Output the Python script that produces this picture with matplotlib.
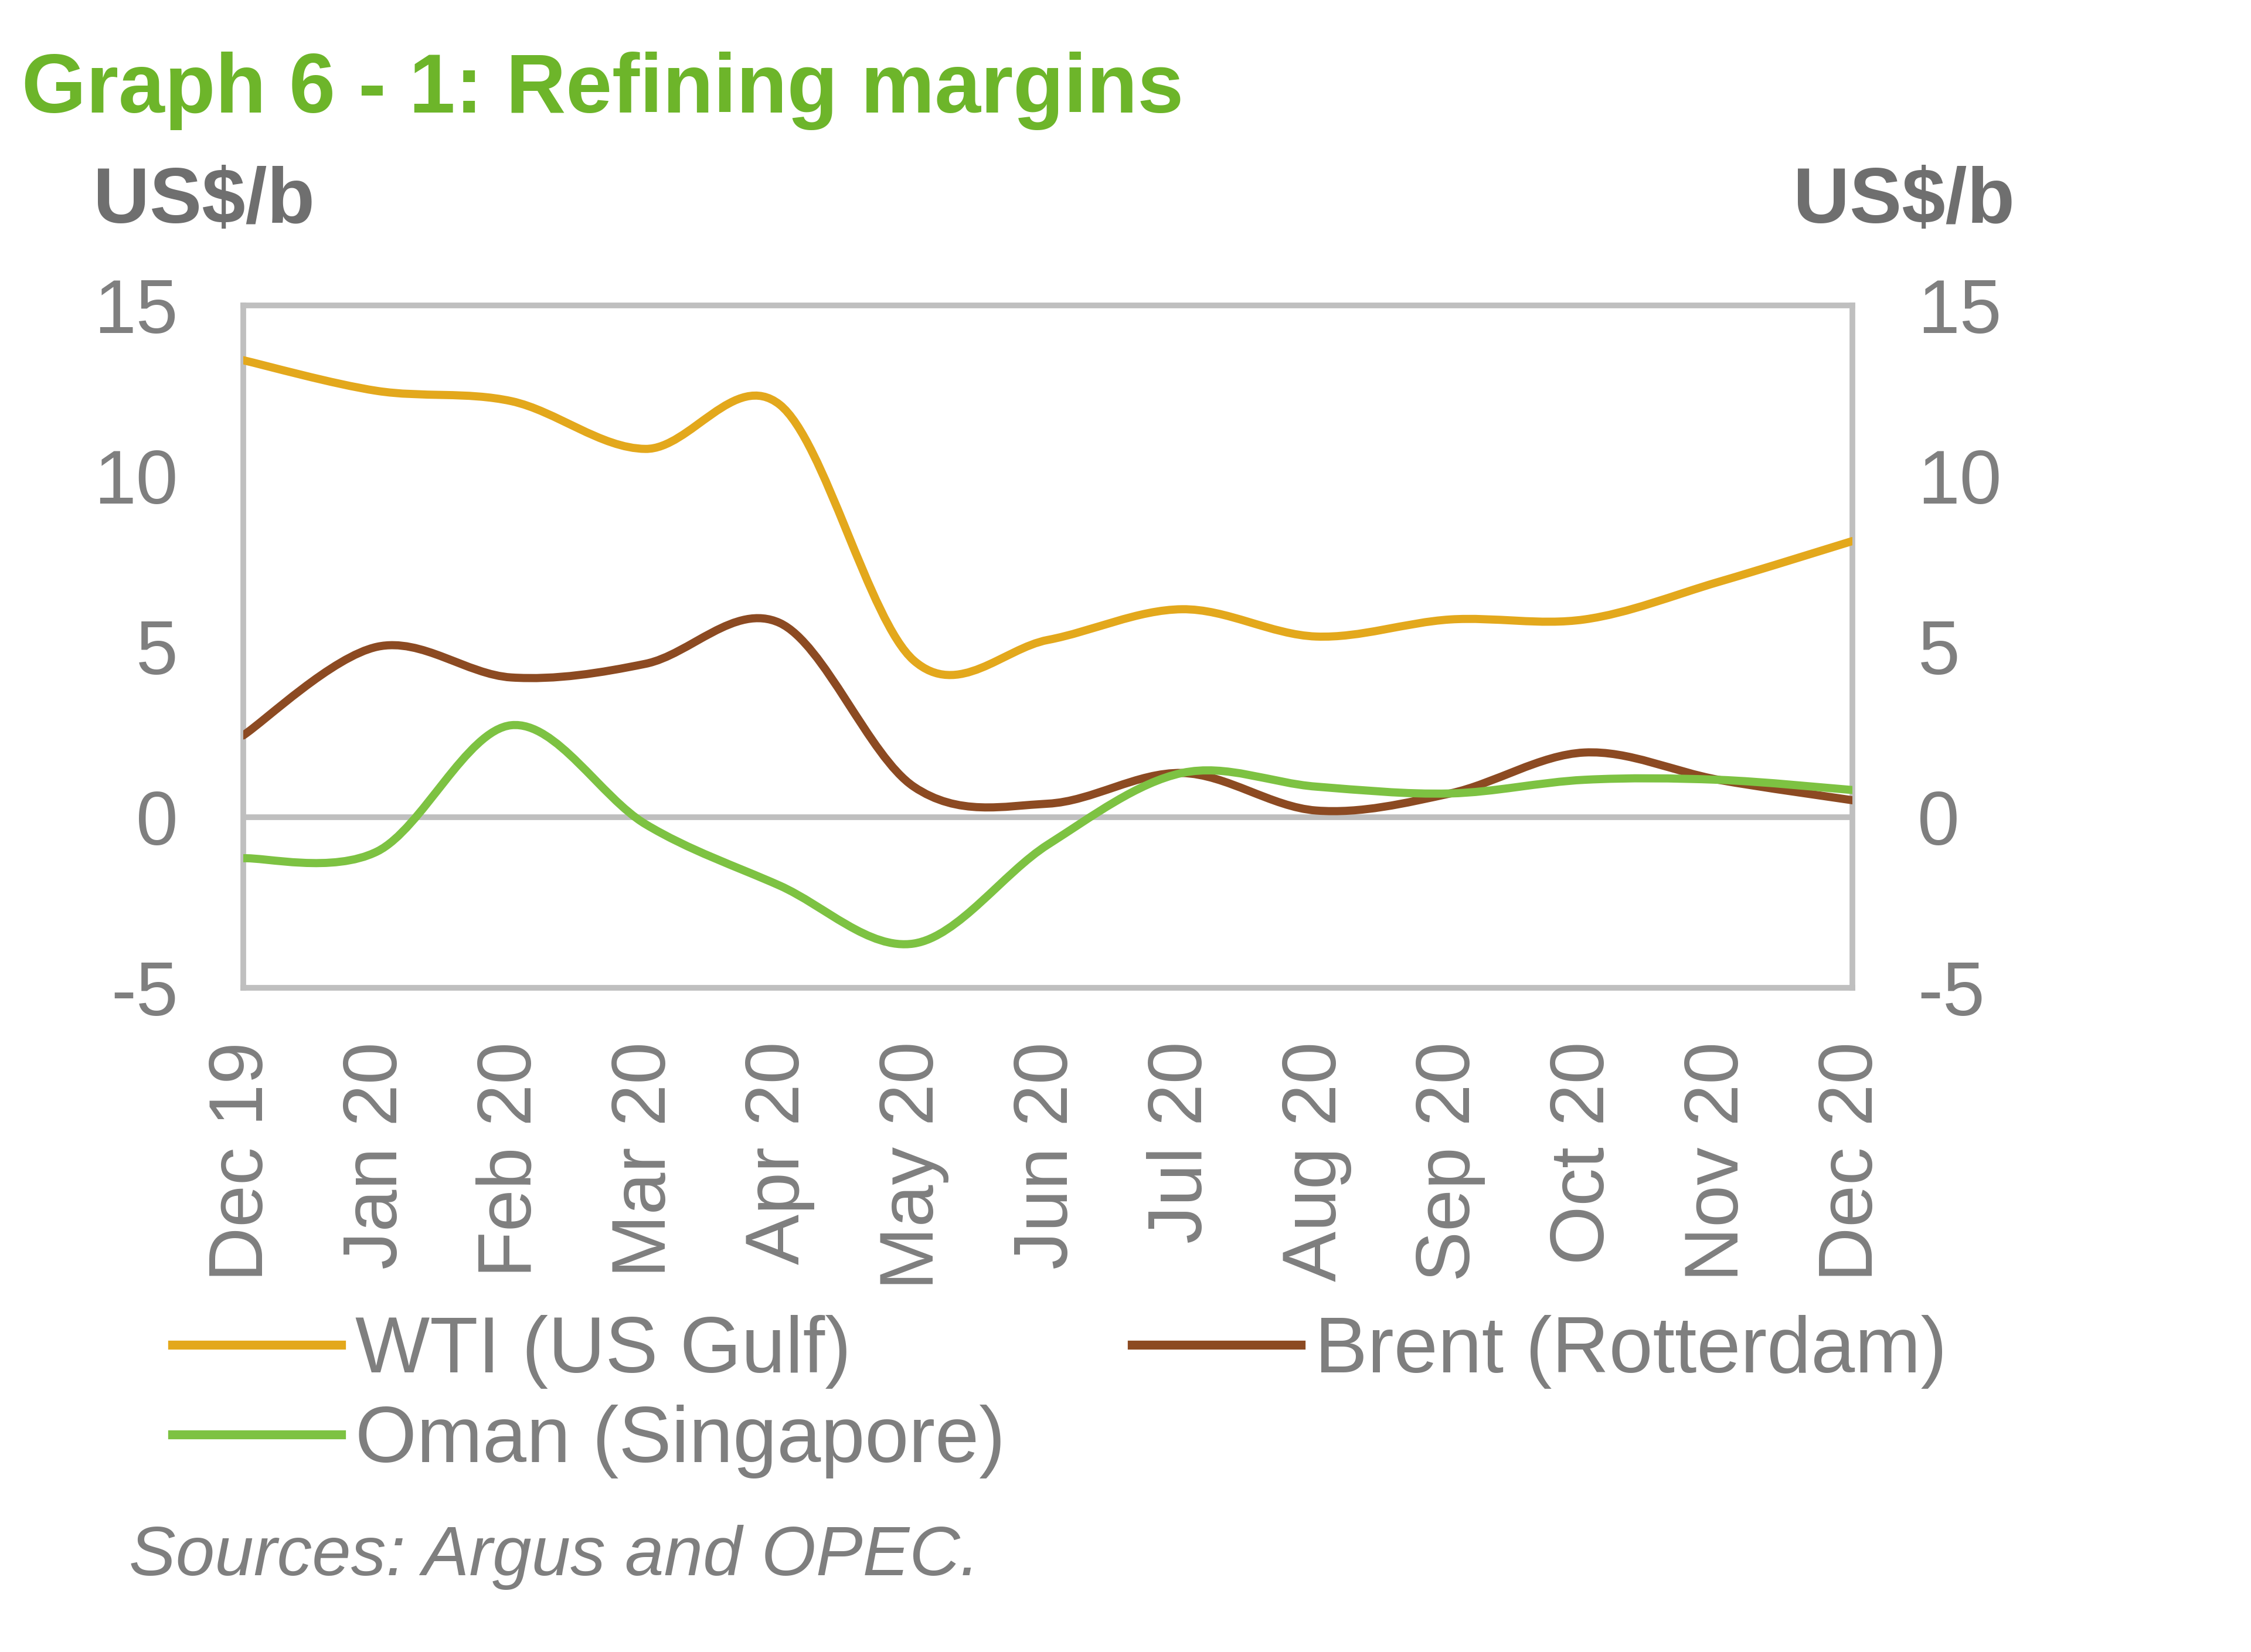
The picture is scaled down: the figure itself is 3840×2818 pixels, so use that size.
import matplotlib
matplotlib.use("Agg")
import matplotlib.pyplot as plt
from matplotlib.path import Path
from matplotlib.patches import PathPatch
from matplotlib.lines import Line2D

plt.rcParams['font.family'] = ['Liberation Sans', 'DejaVu Sans']
plt.rcParams['axes.unicode_minus'] = False

months = ['Dec 19', 'Jan 20', 'Feb 20', 'Mar 20', 'Apr 20', 'May 20', 'Jun 20',
          'Jul 20', 'Aug 20', 'Sep 20', 'Oct 20', 'Nov 20', 'Dec 20']
wti = [13.4, 12.5, 12.2, 10.8, 12.1, 4.6, 5.2, 6.1, 5.3, 5.8, 5.8, 6.9, 8.1]
brent = [2.4, 5.0, 4.1, 4.5, 5.7, 0.9, 0.4, 1.3, 0.2, 0.7, 1.9, 1.1, 0.5]
oman = [-1.2, -1.0, 2.7, -0.2, -2.0, -3.7, -0.8, 1.3, 0.9, 0.7, 1.1, 1.1, 0.8]

series = [
    ("WTI (US Gulf)", wti, '#E3A81C'),
    ("Brent (Rotterdam)", brent, '#8C4A22'),
    ("Oman (Singapore)", oman, '#7DC242'),
]

grey_text = '#7F7F7F'
frame_grey = '#BFBFBF'


def smooth_path(xs, ys):
    # Excel-like smoothed line: cubic Bezier through each point
    verts = [(xs[0], ys[0])]
    codes = [Path.MOVETO]
    n = len(xs)
    for i in range(n - 1):
        x0, y0 = (xs[i - 1], ys[i - 1]) if i > 0 else (xs[i], ys[i])
        x1, y1 = xs[i], ys[i]
        x2, y2 = xs[i + 1], ys[i + 1]
        x3, y3 = (xs[i + 2], ys[i + 2]) if i + 2 < n else (x2, y2)
        c1 = (x1 + (x2 - x0) / 6, y1 + (y2 - y0) / 6)
        c2 = (x2 - (x3 - x1) / 6, y2 - (y3 - y1) / 6)
        verts += [c1, c2, (x2, y2)]
        codes += [Path.CURVE4] * 3
    return Path(verts, codes)


fig = plt.figure(figsize=(38.4, 28.18), dpi=100)
ax = fig.add_axes([0.108, 0.402, 0.715, 0.413])

x = list(range(len(months)))
handles = []
for label, vals, colour in series:
    ax.add_patch(PathPatch(smooth_path(x, vals), fill=False, edgecolor=colour,
                           lw=10, capstyle='round', zorder=3))
    handles.append(Line2D([], [], color=colour, lw=11, label=label))

ax.axhline(0, color=frame_grey, lw=7, zorder=2)
ax.set_xlim(0, len(months) - 1)
ax.set_ylim(-5, 15)
ax.set_yticks([-5, 0, 5, 10, 15])
ax.set_xticks(x)
ax.set_xticklabels(months, rotation=90)

for s in ax.spines.values():
    s.set_color(frame_grey)
    s.set_linewidth(7)

ax.tick_params(axis='both', length=0, labelsize=93, labelcolor=grey_text)
ax.tick_params(axis='y', pad=80)
ax.tick_params(axis='x', pad=66)

ax2 = ax.twinx()
ax2.set_ylim(-5, 15)
ax2.set_yticks([-5, 0, 5, 10, 15])
ax2.tick_params(axis='y', length=0, labelsize=93, labelcolor=grey_text, pad=80)
for s in ax2.spines.values():
    s.set_visible(False)

fig.text(0.0096, 0.932, "Graph 6 - 1: Refining margins", color='#6DB52A',
         fontsize=102, fontweight='bold', ha='left', va='baseline')
fig.text(0.0414, 0.865, "US$/b", color='#6F6F6F', fontsize=96,
         fontweight='bold', ha='left', va='baseline')
fig.text(0.895, 0.865, "US$/b", color='#6F6F6F', fontsize=96,
         fontweight='bold', ha='right', va='baseline')

order = [handles[0], handles[2], handles[1]]
fig.legend(handles=order, loc='upper left', bbox_to_anchor=(0.0765, 0.204),
           ncol=2, frameon=False, fontsize=97, labelcolor=grey_text,
           handlelength=2.14, handletextpad=0.18, columnspacing=1.6,
           labelspacing=0.2, borderpad=0, borderaxespad=0)

fig.text(0.0574, 0.0465, "Sources: Argus and OPEC.", color=grey_text,
         fontsize=86, fontstyle='italic', ha='left', va='baseline')

fig.savefig("out.png", dpi=100, facecolor='white')
